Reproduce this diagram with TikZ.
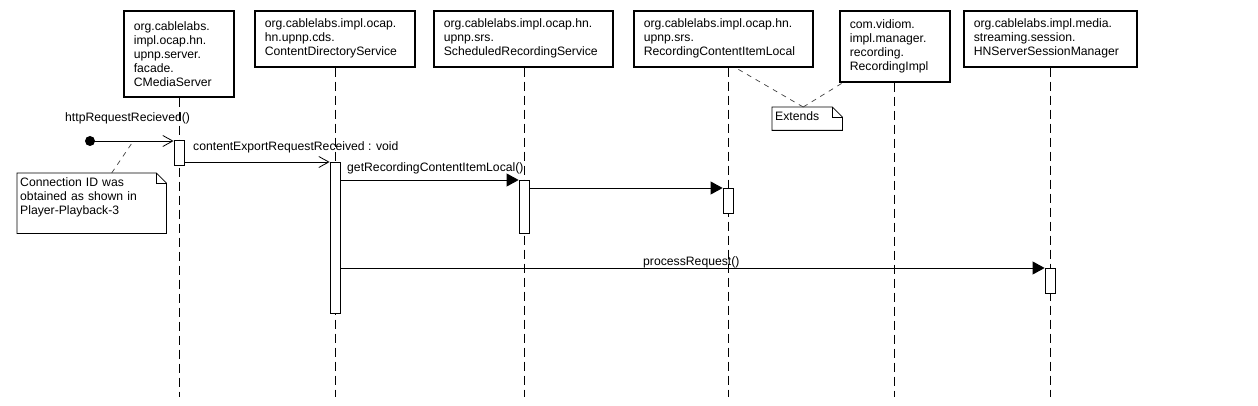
\documentclass[tikz,border=0pt]{standalone}
\usepackage{fontspec}
\setmainfont{Liberation Sans}
\usetikzlibrary{arrows.meta}
\begin{document}
\begin{tikzpicture}[x=1pt,y=-1pt,
  font=\fontsize{12.2}{14}\selectfont,
  obj/.style={draw, line width=1.6pt, anchor=north west, align=left, inner xsep=10pt, inner ysep=0pt},
  life/.style={line width=0.8pt, dash pattern=on 9pt off 5pt},
  act/.style={draw, fill=white, line width=0.8pt, minimum width=10pt, inner sep=0pt, anchor=north},
  msg/.style={line width=0.8pt},
  openmsg/.style={msg, -{Straight Barb[length=10pt,width=11pt,line width=0.8pt]}},
  callmsg/.style={msg, -{Triangle[length=12pt,width=13pt]}},
  lbl/.style={anchor=base west, inner sep=0pt},
  notebox/.style={anchor=north west, align=left, inner xsep=3pt, inner ysep=3pt, text height=10pt},
  noteline/.style={line width=0.8pt},
  notelink/.style={line width=0.7pt, black!75, dash pattern=on 5pt off 5pt},
]
\useasboundingbox[fill=white] (0,0) rectangle (1258,406);

% objects
\node[obj, text width=90pt, minimum height=86pt] (o1) at (123,10)
  {org.cablelabs.\\impl.ocap.hn.\\upnp.server.\\facade.\\CMediaServer};
\node[obj, text width=140pt, minimum height=56pt] (o2) at (254,10)
  {org.cablelabs.impl.ocap.\\hn.upnp.cds.\\ContentDirectoryService};
\node[obj, text width=159pt, minimum height=56pt] (o3) at (433,10)
  {org.cablelabs.impl.ocap.hn.\\upnp.srs.\\ScheduledRecordingService};
\node[obj, text width=159pt, minimum height=56pt] (o4) at (633,10)
  {org.cablelabs.impl.ocap.hn.\\upnp.srs.\\RecordingContentItemLocal};
\node[obj, text width=90pt, minimum height=71pt] (o5) at (839,10)
  {com.vidiom.\\impl.manager.\\recording.\\RecordingImpl};
\node[obj, text width=153pt, minimum height=56pt] (o6) at (963,10)
  {org.cablelabs.impl.media.\\streaming.session.\\HNServerSessionManager};

% lifeline ends
\coordinate (e1) at (179,397);
\coordinate (e2) at (335,397);
\coordinate (e3) at (524,397);
\coordinate (e4) at (728,397);
\coordinate (e5) at (894,397);
\coordinate (e6) at (1050,397);
\draw[life] (o1.south -| e1) -- (e1);
\draw[life] (o2.south -| e2) -- (e2);
\draw[life] (o3.south -| e3) -- (e3);
\draw[life] (o4.south -| e4) -- (e4);
\draw[life] (o5.south -| e5) -- (e5);
\draw[life] (o6.south -| e6) -- (e6);

% activations
\node[act, minimum height=25pt] (a1) at (179,140) {};
\node[act, minimum height=151pt] (a2) at (335,162) {};
\node[act, minimum height=53pt] (a3) at (524,180) {};
\node[act, minimum height=25pt] (a4) at (728,188) {};
\node[act, minimum height=25pt] (a5) at (1050,268) {};

% start
\node[circle, fill=black, inner sep=0pt, minimum size=10pt] (start) at (90,141) {};

% messages
\draw[openmsg] (start.center) -- (start -| a1.west);
\draw[openmsg] (a1.east |- a2.north) -- (a2.north west);
\draw[callmsg] (a2.east |- a3.north) -- (a3.north west);
\draw[callmsg] (a3.east |- a4.north) -- (a4.north west);
\draw[callmsg] (a2.east |- a5.north) -- (a5.north west);

% labels
\node[lbl] (l1) at (65,122) {httpRequestRecieved()};
\node[lbl] (l2) at (193,151) {contentExportRequestReceived : void};
\node[lbl] (l3) at (347,172) {getRecordingContentItemLocal()};
\node[lbl] (l4) at (643,265) {processRequest()};

% notes
\node[notebox, text width=143pt, text depth=44pt] (n1) at (17,173)
  {Connection ID was\\obtained as shown in\\Player-Playback-3};
\draw[noteline] (n1.north west) -- ([xshift=-10pt]n1.north east) -- ([yshift=-10pt]n1.north east)
  -- (n1.south east) -- (n1.south west) -- cycle;
\draw[noteline] ([xshift=-10pt]n1.north east) |- ([yshift=-10pt]n1.north east);

\node[notebox, text width=64pt, text depth=7pt] (n2) at (772,107) {Extends};
\draw[noteline] (n2.north west) -- ([xshift=-10pt]n2.north east) -- ([yshift=-10pt]n2.north east)
  -- (n2.south east) -- (n2.south west) -- cycle;
\draw[noteline] ([xshift=-10pt]n2.north east) |- ([yshift=-10pt]n2.north east);

% note links
\coordinate (k1) at (132,143);
\draw[notelink] ([xshift=20pt]n1.north) -- (k1);
\draw[notelink] ([xshift=-4pt]n2.north) -- ([xshift=12pt]o4.south);
\draw[notelink] ([xshift=-4pt]n2.north) -- ([xshift=4pt]o5.south west);
\end{tikzpicture}
\end{document}
